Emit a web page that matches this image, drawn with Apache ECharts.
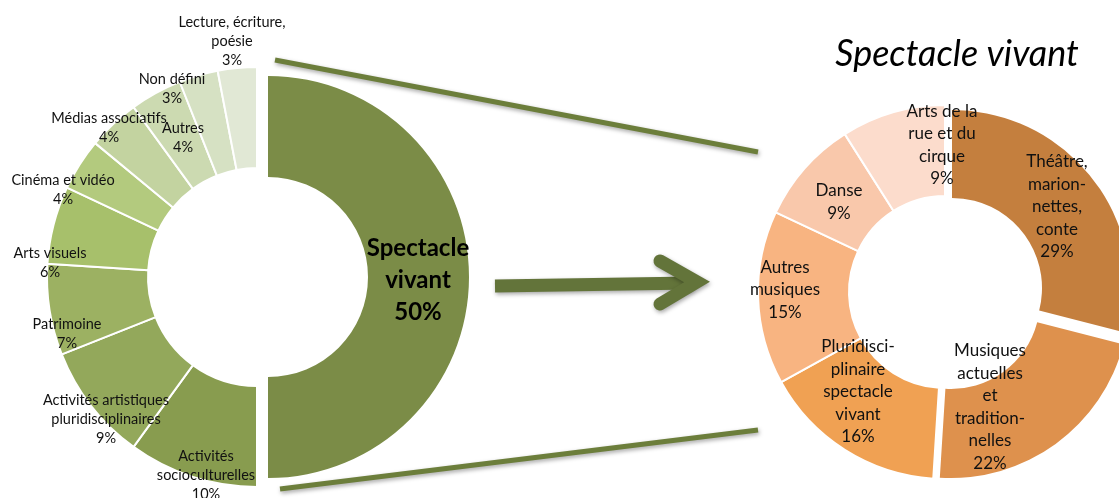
<!DOCTYPE html>
<html><head><meta charset="utf-8">
<script src="https://cdn.jsdelivr.net/npm/echarts/dist/echarts.min.js"></script>
<style>html,body{margin:0;padding:0;background:#fff}#c{width:1119px;height:498px}</style>
</head><body><div id="c"></div>
<script>
// ---- data ----
const leftCategories = [
  'Spectacle\nvivant',
  'Activités\nsocioculturelles',
  'Activités artistiques\npluridisciplinaires',
  'Patrimoine',
  'Arts visuels',
  'Cinéma et vidéo',
  'Médias associatifs',
  'Autres',
  'Non défini',
  'Lecture, écriture,\npoésie'
];
const leftValues = [50, 10, 9, 7, 6, 4, 4, 4, 3, 3];

const rightCategories = [
  'Théâtre,\nmarion-\nnettes,\nconte',
  'Musiques\nactuelles\net\ntradition-\nnelles',
  'Pluridisci-\nplinaire\nspectacle\nvivant',
  'Autres\nmusiques',
  'Danse',
  'Arts de la\nrue et du\ncirque'
];
const rightValues = [29, 22, 16, 15, 9, 9];
const rightTitle = 'Spectacle vivant';

// ---- styles ----
const leftColors = ['#7b8c47','#889c4f','#93a85b','#9cb162','#a7c06b','#b3ca7e','#c3d3a0','#ccdab1','#d6e1c3','#e1e8d5'];
const rightColors = ['#c47f3e','#de914d','#f0a153','#f8b481','#f9c8ab','#fcdccc'];
const FONT = 'Lato';

// label anchor centres (layout)
const leftLabelPos = [[418,280],[206,475],[106,419],[67,334],[50,263],[63,190],[109,128],[183,138],[172,89],[232,41]];
const rightLabelPos = [[1057,207],[990,407],[858,392],[785,290],[839,202],[942,145]];

const HIDDEN = 'rgba(0,0,0,0)';
function buildData(names, values, colors, shown, labelStyle) {
  return names.map((n, i) => {
    const vis = shown.includes(i);
    return {
      name: n,
      value: values[i],
      itemStyle: vis ? { color: colors[i] } : { color: HIDDEN, borderWidth: 0 },
      label: vis ? Object.assign({ show: true }, labelStyle ? labelStyle(i) : {}) : { show: false }
    };
  });
}
function layoutFrom(pos) {
  return function (p) {
    const q = pos[p.dataIndex];
    return { x: q[0], y: q[1], align: 'center', verticalAlign: 'middle' };
  };
}
function pieSeries(center, radius, data, pos, fontSize, lineHeight, border) {
  return {
    type: 'pie',
    center: center,
    radius: radius,
    startAngle: 90,
    clockwise: true,
    silent: true,
    avoidLabelOverlap: false,
    emphasis: { disabled: true },
    itemStyle: { borderColor: '#fff', borderWidth: border },
    label: {
      position: 'outside',
      formatter: '{b}\n{c}%',
      fontFamily: FONT,
      fontSize: fontSize,
      lineHeight: lineHeight,
      color: '#111',
      align: 'center'
    },
    labelLine: { show: false },
    labelLayout: layoutFrom(pos),
    data: data
  };
}

const leftRest = [1,2,3,4,5,6,7,8,9];
const bigLabel = () => ({ fontSize: 24, lineHeight: 32, fontWeight: 'bold', color: '#000' });

const option = {
  animation: false,
  backgroundColor: '#fff',
  title: {
    text: rightTitle,
    left: 952,
    top: 31,
    textAlign: 'center',
    textStyle: { fontFamily: FONT, fontStyle: 'italic', fontWeight: 'normal', fontSize: 36, color: '#000' }
  },
  series: [
    pieSeries([257, 277], [109, 210], buildData(leftCategories, leftValues, leftColors, leftRest), leftLabelPos, 14.5, 19, 2),
    pieSeries([268, 277], [100, 201], buildData(leftCategories, leftValues, leftColors, [0], bigLabel), leftLabelPos, 14.5, 19, 0),
    pieSeries([945, 292], [96, 187], buildData(rightCategories, rightValues, rightColors, [2,3,4,5]), rightLabelPos, 17, 22.5, 2),
    pieSeries([952, 288], [90, 178], buildData(rightCategories, rightValues, rightColors, [0]), rightLabelPos, 17, 22.5, 0),
    pieSeries([951, 300], [89, 178], buildData(rightCategories, rightValues, rightColors, [1]), rightLabelPos, 17, 22.5, 0)
  ],
  graphic: [
    { type: 'line', shape: { x1: 275, y1: 60, x2: 758, y2: 152 },
      style: { stroke: '#6c7e3b', lineWidth: 5, shadowBlur: 4, shadowColor: 'rgba(0,0,0,0.35)', shadowOffsetX: 1, shadowOffsetY: 2 } },
    { type: 'line', shape: { x1: 280, y1: 489, x2: 758, y2: 430 },
      style: { stroke: '#6c7e3b', lineWidth: 5, shadowBlur: 4, shadowColor: 'rgba(0,0,0,0.35)', shadowOffsetX: 1, shadowOffsetY: 2 } },
    { type: 'line', shape: { x1: 495, y1: 286, x2: 692, y2: 283 },
      style: { stroke: '#63743a', lineWidth: 13, lineCap: 'butt', shadowBlur: 4, shadowColor: 'rgba(0,0,0,0.35)', shadowOffsetX: 1, shadowOffsetY: 2 } },
    { type: 'polyline', shape: { points: [[660, 261], [697, 282], [660, 304]] },
      style: { stroke: '#63743a', lineWidth: 13, lineCap: 'round', lineJoin: 'miter', fill: null, shadowBlur: 4, shadowColor: 'rgba(0,0,0,0.35)', shadowOffsetX: 1, shadowOffsetY: 2 } }
  ]
};
const chart = echarts.init(document.getElementById('c'), null, { renderer: 'canvas' });
chart.setOption(option);
</script>
</body></html>
